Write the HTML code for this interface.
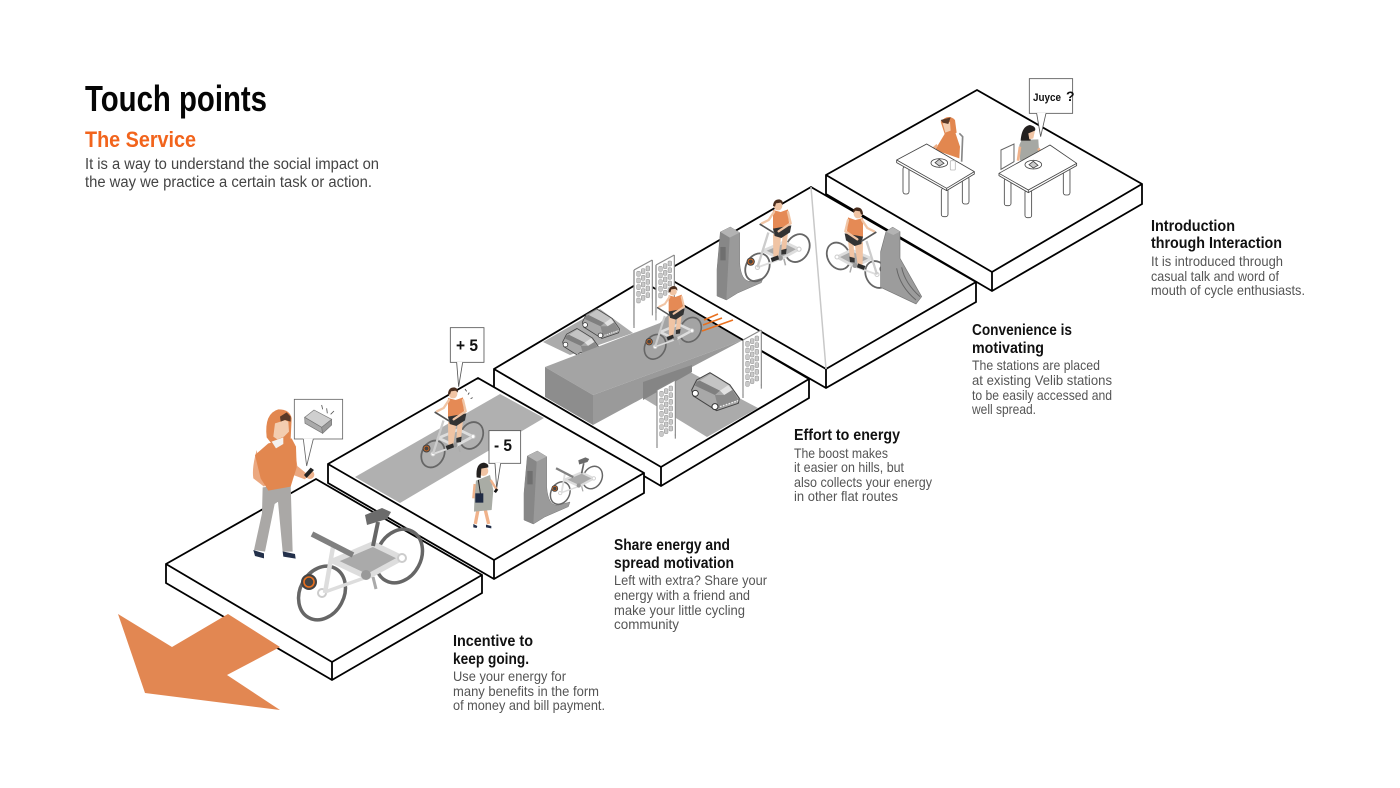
<!DOCTYPE html>
<html><head><meta charset="utf-8"><style>
html,body{margin:0;padding:0;background:#fff}svg{display:block}
text{font-family:"Liberation Sans",sans-serif}
.h{font-weight:bold;font-size:15.5px;fill:#111}
.b{font-size:14px;fill:#555}
.p{fill:#fff;stroke:#000;stroke-width:1.8;stroke-linejoin:miter}
</style></head><body>
<svg width="1400" height="788" viewBox="0 0 1400 788" xmlns="http://www.w3.org/2000/svg">
<defs>
<g id="bf">
<g fill="none">
<ellipse cx="399" cy="556" rx="22" ry="28" transform="rotate(28 399 556)" stroke="#666" stroke-width="3.5"/>
<ellipse cx="322" cy="593" rx="22" ry="28" transform="rotate(28 322 593)" stroke="#666" stroke-width="3.5"/>
</g>
<polygon points="333,561 373,544 402,558 367,577" fill="#aaa" stroke="#ddd" stroke-width="5.5" stroke-linejoin="round"/>
<path d="M322,593 L367,577" fill="none" stroke="#ddd" stroke-width="3.5"/>
<circle cx="366" cy="575" r="5" fill="#999"/>
<path d="M373,577 L376,589" stroke="#aaa" stroke-width="3"/>
<circle cx="309" cy="582" r="8" fill="#444"/>
<circle cx="309" cy="582" r="5" fill="none" stroke="#e8701f" stroke-width="1.6"/>
<circle cx="322" cy="593" r="4" fill="#fff" stroke="#ccc" stroke-width="2"/>
<circle cx="402" cy="558" r="4" fill="#fff" stroke="#ccc" stroke-width="2"/>
</g>
<g id="bike">
<use href="#bf"/>
<path d="M333,547 L325,593" stroke="#ddd" stroke-width="4.5"/>
<path d="M378,522 L373,546" stroke="#666" stroke-width="4"/>
<polygon points="365,515 382,508 391,512 387,519 367,525" fill="#6b6b6b"/>
<path d="M312,534 L353,555" stroke="#808080" stroke-width="5.5"/>
</g>
<g id="bikeR">
<use href="#bf"/>
<path d="M322,593 L343,526" stroke="#ccc" stroke-width="4.5"/>
</g>
<g id="car">
<polygon points="605,450 620,420 660,398 680,410 720,435 748,475 745,490 680,512 610,468" fill="#a8a8a8" stroke="#444" stroke-width="3" stroke-linejoin="round"/>
<polygon points="620,425 630,422 690,452 675,465 615,437" fill="#7f7f7f"/>
<polygon points="630,422 662,402 715,435 690,452" fill="#c4c4c4"/>
<polygon points="690,452 715,435 727,450 703,465" fill="#e2e2e2"/>
<polygon points="675,465 703,465 727,450 745,478 685,505" fill="#8a8a8a"/>
<path d="M690,500 L745,482" stroke="#eee" stroke-width="4" stroke-dasharray="5 4"/>
<circle cx="616" cy="460" r="9" fill="#fff" stroke="#333" stroke-width="3"/>
<circle cx="675" cy="500" r="9" fill="#fff" stroke="#333" stroke-width="3"/>
</g>
<g id="r1" fill="#c9c9c9" stroke="#777" stroke-width="1.2">
<rect x="8" y="0" width="11" height="15" rx="3"/><rect x="22" y="-8" width="11" height="15" rx="3"/><rect x="36" y="-16" width="11" height="15" rx="3"/>
</g>
<g id="d5">
<use href="#r1" y="40"/><use href="#r1" y="60"/><use href="#r1" y="80"/><use href="#r1" y="100"/><use href="#r1" y="120"/>
</g>
<g id="pb">
<polygon points="0,36 55,6 55,172 0,202" fill="#fff"/>
<path d="M0,36 L55,6 M0,36 V202 M55,6 V172" fill="none" stroke="#8a8a8a" stroke-width="3.5"/>
</g>
<g id="rider">
<polygon points="14,90 30,85 24,140 10,142" fill="#f0c4a4"/>
<polygon points="10,138 26,134 24,150 10,152" fill="#333"/>
<polygon points="-15,90 10,95 1,158 -14,158" fill="#f0c4a4"/>
<polygon points="-22,162 0,154 3,166 -18,174" fill="#2b2b2b"/>
<polygon points="-15,18 8,24 30,16 34,70 -15,76" fill="#e58a55"/>
<polygon points="-15,74 40,64 36,85 10,102 -10,96" fill="#333"/>
<path d="M-12,24 L-28,48 L-48,58 M30,24 L38,58 L2,82" stroke="#f0c4a4" stroke-width="7" stroke-linecap="round" stroke-linejoin="round" fill="none"/>
<path d="M-55,60 L-10,88" stroke="#555" stroke-width="5"/>
<circle cx="0" cy="6" r="13" fill="#f0c4a4"/>
<path d="M-15,6 Q-14,-14 4,-14 Q16,-12 15,2 L8,-4 L-6,-2 L-9,8 Z" fill="#4a2d1d"/>
</g>
<g id="station">
<path d="M10,15 L40,0 L68,17 V108 Q72,163 100,163 L138,153 L133,167 L62,198 L28,219 L0,207 V127 Z" fill="#9a9a9a" stroke="#777" stroke-width="1.5"/>
<polygon points="10,15 40,0 68,17 38,32" fill="#b3b3b3"/>
<polygon points="10,15 38,32 28,219 0,207 0,127" fill="#878787"/>
<rect x="10" y="60" width="16" height="40" fill="#6f6f6f"/>
</g>
</defs>

<!-- platforms back to front -->
<path class="p" d="M826,175 L977,90 L1142,184 L1142,204 L992,291 L826,194 Z"/>
<path class="p" d="M826,175 L992,272 L1142,184 M992,272 V291"/>
<path class="p" d="M661,274 L811,187 L976,282 L976,302 L826,388 L661,293 Z"/>
<path class="p" d="M661,274 L826,369 L976,282 M826,369 V388"/>
<path d="M811,187 L826,369" stroke="#c8c8c8" stroke-width="1.5" fill="none"/>
<path class="p" d="M494,369 L642,281 L809,379 L809,398 L661,486 L494,388 Z"/>
<path class="p" d="M494,369 L661,467 L809,379 M661,467 V486"/>
<path class="p" d="M328,464 L478,378 L644,473 L644,493 L494,579 L328,483 Z"/>
<path class="p" d="M328,464 L494,560 L644,473 M494,560 V579"/>
<path class="p" d="M166,564 L316,479 L482,575 L482,593 L332,680 L166,583 Z"/>
<path class="p" d="M166,564 L332,662 L482,575 M332,662 V680"/>

<!-- arrow -->
<polygon points="118,614 145,693 280,710 227,675 280,647 228,614 172,647" fill="#e28752"/>

<!-- roads -->
<polygon points="355,477 500,394 544,418 400,503" fill="#b0b0b0"/>
<polygon points="543,342 600,309 633,333 570,355" fill="#ababab"/>
<polygon points="643,398 690,372 758,408 707,437" fill="#ababab"/>

<!-- small cars under ramp -->
<g transform="translate(490,240) scale(.3333)">
<use href="#car" transform="translate(-254,-45) scale(.78)"/>
<use href="#car" transform="translate(-195,-104) scale(.78)"/>
</g>

<!-- ramp -->
<polygon points="545,367 660,323 680,303 743,340 593,395" fill="#a4a4a4"/>
<polygon points="545,367 593,395 593,425 545,397" fill="#8d8d8d"/>
<polygon points="593,395 743,340 692,367 643,398 593,425" fill="#9a9a9a"/>
<polygon points="643,382 692,365 692,372 643,400" fill="#858585"/>
<path d="M683,305 L743,340" stroke="#000" stroke-width="1.8"/>

<!-- big car -->
<use href="#car" transform="translate(490,240) scale(.3333)"/>

<!-- panels -->
<g transform="translate(634,258) scale(.3333)"><use href="#pb"/><polygon points="2,150 53,122 53,175 2,203" fill="#fff"/><use href="#d5"/><path d="M0,36 V210" stroke="#8a8a8a" stroke-width="3.5"/></g>
<g transform="translate(656,253) scale(.3333)"><use href="#pb"/><polygon points="2,150 53,122 53,175 2,203" fill="#fff"/><use href="#d5"/><path d="M0,36 V180" stroke="#8a8a8a" stroke-width="3.5"/></g>
<g transform="translate(657,378) scale(.3333)"><use href="#pb"/><use href="#d5"/><use href="#r1" y="140"/><use href="#r1" y="160"/><path d="M0,200 V210 M55,170 V182" stroke="#8a8a8a" stroke-width="3.5"/></g>
<g transform="translate(743,328) scale(.3333)"><use href="#pb"/><use href="#d5"/><use href="#r1" y="140"/><use href="#r1" y="160"/><path d="M0,200 V210 M55,170 V182" stroke="#8a8a8a" stroke-width="3.5"/></g>

<!-- stations behind wheels -->
<use href="#station" transform="translate(524,451) scale(.3333)"/>
<use href="#station" transform="translate(717,227) scale(.3333)"/>

<!-- bikes -->
<use href="#bikeR" transform="translate(272,157.5) scale(.5)"/>
<use href="#bike" transform="translate(425,244) scale(.42)"/>
<use href="#bikeR" transform="translate(507,74) scale(.46)"/>
<use href="#bikeR" transform="translate(590,-41) scale(.52)"/>
<use href="#bikeR" transform="translate(1038,-22) scale(-.5,.5)"/>
<use href="#bike"/>

<!-- riders -->
<use href="#rider" transform="translate(453,392) scale(.3333)"/>
<use href="#rider" transform="translate(673,290) scale(.29)"/>
<use href="#rider" transform="translate(778,204) scale(.3333)"/>
<use href="#rider" transform="translate(858,212) scale(-.3333,.3333)"/>

<!-- orange speed lines -->
<path d="M704,320 L718,314 M703,325 L722,318 M702,331 L733,320" stroke="#e8701f" stroke-width="1.6"/>

<!-- right station -->
<g transform="translate(670,180) scale(.3333)">
<polygon points="632,215 648,155 668,142 690,155 690,235 755,350 738,372 632,322" fill="#9c9c9c" stroke="#777" stroke-width="2"/>
<path d="M680,265 Q690,320 738,360 M695,262 Q705,310 750,350" fill="none" stroke="#666" stroke-width="3"/>
<polygon points="648,155 668,142 690,155 670,165" fill="#b3b3b3"/>
</g>

<!-- big person -->
<g transform="translate(140,380) scale(.3333)">
<polygon points="368,322 452,312 458,515 428,515 414,365 404,372 375,515 342,510 366,400" fill="#aaa8a6"/>
<path d="M340,510 L372,520 L372,535 L345,528 Z M428,514 L465,522 L467,536 L430,530 Z" fill="#23304a"/>
<path d="M350,210 Q335,265 340,295 L372,320 L388,305 L365,285 Z" fill="#eba880"/>
<path d="M462,190 L472,258 L505,285 L495,298 L452,282 Z" fill="#eba880"/>
<polygon points="345,225 385,190 455,175 468,200 470,262 452,320 385,332 362,295" fill="#e2874f"/>
<path d="M380,172 Q372,100 415,88 Q450,88 455,115 L452,178 L400,198 Z" fill="#e2874f"/>
<polygon points="405,130 422,125 435,120 445,125 447,155 432,170 412,178 400,170" fill="#f3cdb0"/>
<polygon points="420,110 440,97 452,110 452,125 435,120 422,125" fill="#5a3a28"/>
<path d="M395,185 L430,172 L430,192 L408,205 Z" fill="#f4f1ee"/>
<circle cx="510" cy="284" r="13" fill="#eeb48f"/>
<polygon points="492,285 512,263 522,270 500,294" fill="#222"/>
<rect x="463" y="58" width="145" height="119" fill="#fff" stroke="#666" stroke-width="2.5"/>
<polygon points="490,176 500,258 520,176" fill="#fff"/>
<path d="M490,177 L500,258 L520,177" fill="none" stroke="#666" stroke-width="2.5"/>
<polygon points="494,112 522,90 575,118 545,142" fill="#cfcfcf" stroke="#777" stroke-width="2"/>
<polygon points="494,112 545,142 548,160 495,130" fill="#aaa" stroke="#777" stroke-width="2"/>
<polygon points="545,142 575,118 575,135 548,160" fill="#999" stroke="#777" stroke-width="2"/>
<path d="M545,75 L548,88 M560,85 L562,100 M582,93 L572,103" stroke="#555" stroke-width="2.5"/>
</g>

<!-- plat2 people / bubbles -->
<g transform="translate(320,320) scale(.3333)">
<rect x="391" y="23" width="101" height="104" fill="#fff" stroke="#555" stroke-width="2.5"/>
<polygon points="410,126 416,200 428,126" fill="#fff"/>
<path d="M410,127 L416,200 L428,127" fill="none" stroke="#555" stroke-width="2.5"/>
<path d="M435,207 L440,214 M448,218 L444,224 M458,233 L452,236" stroke="#444" stroke-width="2.5"/>
<rect x="507" y="332" width="95" height="98" fill="#fff" stroke="#555" stroke-width="2.5"/>
<polygon points="525,429 530,505 542,429" fill="#fff"/>
<path d="M525,430 L530,505 L542,430" fill="none" stroke="#555" stroke-width="2.5"/>
<path d="M474,570 L466,612 M496,570 L506,612" stroke="#f0b28a" stroke-width="10" fill="none"/>
<polygon points="468,482 510,465 520,510 515,570 462,575 464,520" fill="#a9aca5"/>
<path d="M512,480 L532,512" stroke="#f0b28a" stroke-width="7"/>
<path d="M464,492 L460,535" stroke="#f0b28a" stroke-width="7"/>
<path d="M475,480 L482,525" stroke="#222" stroke-width="3"/>
<rect x="466" y="520" width="24" height="28" fill="#1e2a44"/>
<circle cx="490" cy="453" r="15" fill="#f0c4a4"/>
<path d="M470,472 Q466,430 492,428 Q508,432 505,442 L484,446 L482,474 Z" fill="#23201f"/>
<path d="M460,612 L472,618 L470,624 L460,622 Z M498,614 L514,618 L514,625 L498,622 Z" fill="#23304a"/>
<rect x="524" y="506" width="8" height="12" fill="#111" transform="rotate(35 528 512)"/>
</g>
<text x="456" y="351" font-size="17" font-weight="bold" fill="#111" textLength="22" lengthAdjust="spacingAndGlyphs">+ 5</text>
<text x="494" y="451" font-size="17" font-weight="bold" fill="#111" textLength="18" lengthAdjust="spacingAndGlyphs">- 5</text>

<!-- plat5 -->
<g transform="translate(820,70) scale(.3333)">
<path d="M418,190 L428,200 L425,275" fill="none" stroke="#888" stroke-width="5"/>
<path d="M345,240 L375,190 L405,185 L420,230 L418,265 Z" fill="#e2874f"/>
<path d="M362,155 Q385,130 405,150 L410,188 L385,200 L375,195 Z" fill="#e2874f"/>
<path d="M368,160 L390,156 L392,182 L376,188 Z" fill="#f3cdb0"/>
<path d="M362,150 L392,142 L385,162 L368,158 Z" fill="#5a3a28"/>
<path d="M352,225 L335,240" stroke="#f0b28a" stroke-width="8"/>
<rect x="326" y="230" width="10" height="14" fill="#222"/>
<polygon points="543,240 582,222 582,275 543,298" fill="#fff" stroke="#666" stroke-width="3"/>
<polygon points="598,225 605,210 655,208 657,240 650,258 600,272" fill="#a6a8a3"/>
<path d="M602,212 Q605,168 630,165 Q650,170 645,182 L630,190 L632,212 Z" fill="#23201f"/>
<path d="M625,190 L645,182 L640,205 L628,208 Z" fill="#f0c4a4"/>
<path d="M600,230 L594,272 M655,235 L670,262" stroke="#f0b28a" stroke-width="8"/>
<rect x="668" y="250" width="10" height="14" fill="#222"/>
<g fill="#fff" stroke="#444" stroke-width="2.5">
<rect x="249" y="290" width="18" height="82" rx="7"/><rect x="427" y="320" width="20" height="82" rx="7"/><rect x="364" y="355" width="20" height="85" rx="7"/>
<polygon points="320,222 463,305 463,312 380,362 230,278 230,270"/>
<path d="M230,270 L380,355 L463,305 M380,355 V362" fill="none"/>
<ellipse cx="358" cy="279" rx="25" ry="13"/><polygon points="345,278 358,268 372,280 358,288" fill="#ccc"/>
<rect x="391" y="272" width="15" height="28" rx="3" stroke="#bbb"/>
<rect x="553" y="325" width="20" height="82" rx="7"/><rect x="730" y="295" width="20" height="80" rx="7"/><rect x="615" y="360" width="20" height="83" rx="7"/>
<polygon points="690,225 770,280 770,287 625,368 537,317 537,310"/>
<path d="M537,310 L625,360 L770,280 M625,360 V368" fill="none"/>
<ellipse cx="640" cy="284" rx="25" ry="13"/><polygon points="627,284 640,274 654,286 640,294" fill="#ccc"/>
</g>
<rect x="628" y="26" width="130" height="104" fill="#fff" stroke="#555" stroke-width="2.5"/>
<polygon points="650,129 662,200 678,129" fill="#fff"/>
<path d="M650,130 L662,200 L678,130" fill="none" stroke="#555" stroke-width="2.5"/>
</g>
<text x="1033" y="101" font-size="11" font-weight="bold" fill="#111" textLength="28" lengthAdjust="spacingAndGlyphs">Juyce</text>
<text x="1066" y="101" font-size="14" font-weight="bold" fill="#111">?</text>

<!-- heading -->
<text x="85" y="111" font-size="36" font-weight="bold" fill="#050505" textLength="182" lengthAdjust="spacingAndGlyphs">Touch points</text>
<text x="85" y="147" font-size="22" font-weight="bold" fill="#f2641c" textLength="111" lengthAdjust="spacingAndGlyphs">The Service</text>
<text x="85" y="169" font-size="15.5" fill="#444" textLength="294" lengthAdjust="spacingAndGlyphs">It is a way to understand the social impact on</text>
<text x="85" y="187" font-size="15.5" fill="#444" textLength="287" lengthAdjust="spacingAndGlyphs">the way we practice a certain task or action.</text>

<!-- labels -->
<text class="h" x="453" y="646" textLength="80" lengthAdjust="spacingAndGlyphs">Incentive to</text>
<text class="h" x="453" y="664" textLength="76" lengthAdjust="spacingAndGlyphs">keep going.</text>
<text class="b" x="453" y="681" textLength="113" lengthAdjust="spacingAndGlyphs">Use your energy for</text>
<text class="b" x="453" y="696" textLength="146" lengthAdjust="spacingAndGlyphs">many benefits in the form</text>
<text class="b" x="453" y="710" textLength="152" lengthAdjust="spacingAndGlyphs">of money and bill payment.</text>

<text class="h" x="614" y="550" textLength="116" lengthAdjust="spacingAndGlyphs">Share energy and</text>
<text class="h" x="614" y="568" textLength="120" lengthAdjust="spacingAndGlyphs">spread motivation</text>
<text class="b" x="614" y="585" textLength="153" lengthAdjust="spacingAndGlyphs">Left with extra? Share your</text>
<text class="b" x="614" y="600" textLength="136" lengthAdjust="spacingAndGlyphs">energy with a friend and</text>
<text class="b" x="614" y="615" textLength="131" lengthAdjust="spacingAndGlyphs">make your little cycling</text>
<text class="b" x="614" y="629" textLength="65" lengthAdjust="spacingAndGlyphs">community</text>

<text class="h" x="794" y="440" textLength="106" lengthAdjust="spacingAndGlyphs">Effort to energy</text>
<text class="b" x="794" y="458" textLength="94" lengthAdjust="spacingAndGlyphs">The boost makes</text>
<text class="b" x="794" y="472" textLength="110" lengthAdjust="spacingAndGlyphs">it easier on hills, but</text>
<text class="b" x="794" y="487" textLength="138" lengthAdjust="spacingAndGlyphs">also collects your energy</text>
<text class="b" x="794" y="501" textLength="104" lengthAdjust="spacingAndGlyphs">in other flat routes</text>

<text class="h" x="972" y="335" textLength="100" lengthAdjust="spacingAndGlyphs">Convenience is</text>
<text class="h" x="972" y="353" textLength="72" lengthAdjust="spacingAndGlyphs">motivating</text>
<text class="b" x="972" y="370" textLength="128" lengthAdjust="spacingAndGlyphs">The stations are placed</text>
<text class="b" x="972" y="385" textLength="140" lengthAdjust="spacingAndGlyphs">at existing Velib stations</text>
<text class="b" x="972" y="400" textLength="140" lengthAdjust="spacingAndGlyphs">to be easily accessed and</text>
<text class="b" x="972" y="414" textLength="64" lengthAdjust="spacingAndGlyphs">well spread.</text>

<text class="h" x="1151" y="231" textLength="84" lengthAdjust="spacingAndGlyphs">Introduction</text>
<text class="h" x="1151" y="248" textLength="131" lengthAdjust="spacingAndGlyphs">through Interaction</text>
<text class="b" x="1151" y="266" textLength="132" lengthAdjust="spacingAndGlyphs">It is introduced through</text>
<text class="b" x="1151" y="281" textLength="128" lengthAdjust="spacingAndGlyphs">casual talk and word of</text>
<text class="b" x="1151" y="295" textLength="154" lengthAdjust="spacingAndGlyphs">mouth of cycle enthusiasts.</text>
</svg>
</body></html>
